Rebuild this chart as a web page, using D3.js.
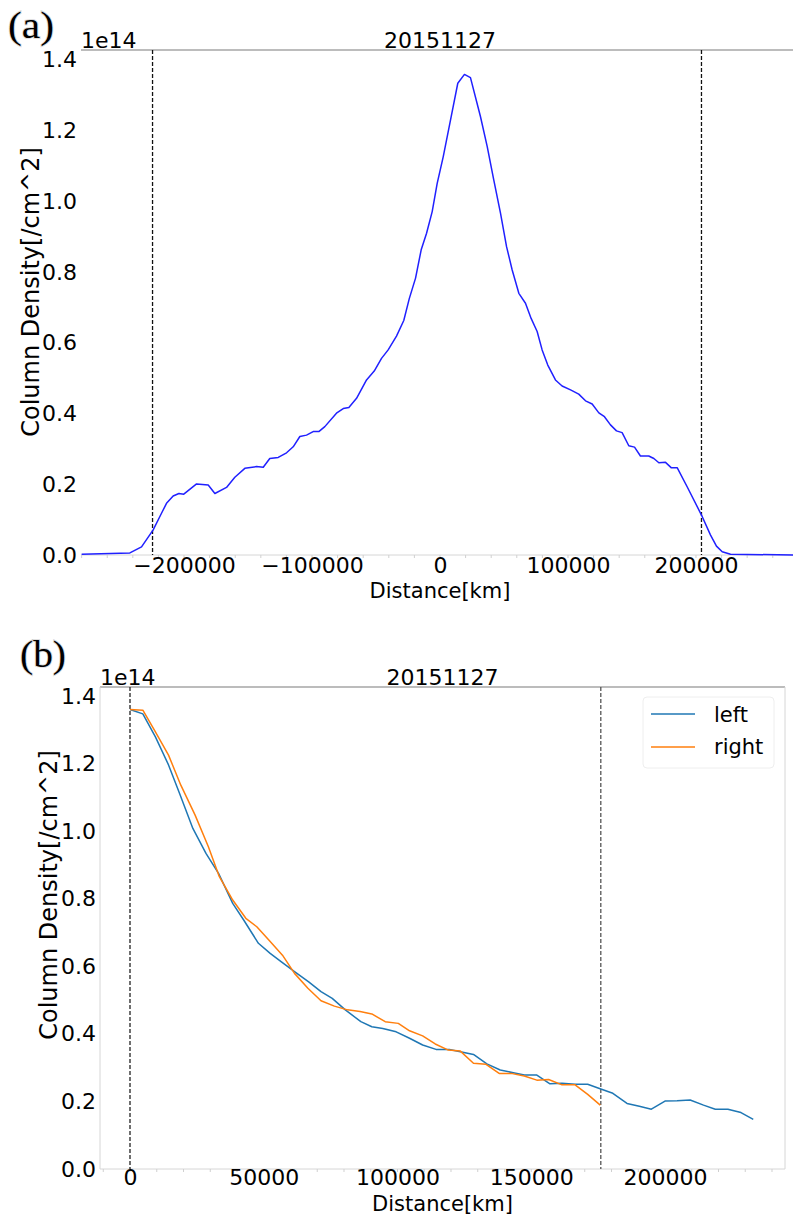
<!DOCTYPE html>
<html>
<head>
<meta charset="utf-8">
<script src="https://cdn.jsdelivr.net/npm/d3@7"></script>
<style>
  body { margin: 0; background: #fff; }
  svg text { font-family: "DejaVu Sans", sans-serif; fill: #000; }
</style>
</head>
<body>
<svg id="chart" width="793" height="1216"></svg>
<script>
// ---- data (column density in units of 1e14 /cm^2, distance in km) ----
const title = '20151127';

// panel (a): full profile across the tail
const aDistance = [-280000, -242300, -233200, -224100, -217600, -213700, -208500, -204000, -200200, -190200,
    -181100, -175900, -166800, -160300, -152500, -143400, -138100, -133000, -126400, -119900,
    -114700, -109500, -104300, -99100, -94700, -90000, -80900, -75600, -71200, -65200,
    -57400, -51400, -45700, -40500, -34000, -28300, -24000, -19100, -14700, -10500,
    -6100, -2200, 2500, 8200, 13900, 19100, 23800, 31600, 36900, 42000,
    47300, 52000, 56400, 61600, 66800, 71200, 75900, 79800, 84200, 90200,
    95400, 102000, 108400, 113700, 118900, 124100, 128500, 133200, 137900, 142300,
    147500, 152000, 156600, 163100, 167100, 171000, 176200, 180600, 185300, 193100,
    204300, 211300, 216000, 220500, 227000, 280000];
const aDensity = [0.002, 0.006, 0.023, 0.071, 0.118, 0.146, 0.167, 0.174, 0.172, 0.201,
    0.198, 0.174, 0.191, 0.220, 0.245, 0.250, 0.248, 0.273, 0.276, 0.289,
    0.306, 0.335, 0.339, 0.349, 0.349, 0.363, 0.401, 0.414, 0.417, 0.443,
    0.495, 0.520, 0.556, 0.580, 0.619, 0.663, 0.725, 0.783, 0.863, 0.910,
    0.971, 1.051, 1.126, 1.230, 1.334, 1.359, 1.350, 1.240, 1.155, 1.061,
    0.966, 0.872, 0.806, 0.740, 0.712, 0.669, 0.632, 0.580, 0.537, 0.495,
    0.478, 0.467, 0.455, 0.436, 0.427, 0.402, 0.391, 0.368, 0.351, 0.346,
    0.309, 0.305, 0.280, 0.280, 0.273, 0.261, 0.262, 0.247, 0.247, 0.193,
    0.113, 0.057, 0.025, 0.009, 0.002, 0.000];
const aCuts = [-224600, 204300];
const aXTicks = [-200000, -100000, 0, 100000, 200000];

// panel (b): folded profile, left and right side of the peak
const bLeftDistance = [0, 4800, 9500, 14400, 18500, 23500, 28400, 33100, 38400, 42500,
    48000, 52400, 56600, 61500, 66800, 71400, 75600, 80500, 86300, 90400,
    94500, 99500, 104500, 109400, 114400, 119400, 123500, 128400, 133400, 138400,
    143300, 147400, 152100, 157000, 161500, 166400, 171100, 176000, 180500, 185800,
    190400, 194900, 200000, 204500, 209400, 214400, 218800, 223500, 228400, 233000];
const bLeftDensity = [1.360, 1.347, 1.279, 1.196, 1.112, 1.008, 0.934, 0.875, 0.786, 0.737,
    0.668, 0.638, 0.613, 0.584, 0.554, 0.525, 0.505, 0.471, 0.436, 0.421,
    0.416, 0.406, 0.387, 0.367, 0.354, 0.354, 0.347, 0.339, 0.311, 0.293,
    0.285, 0.278, 0.278, 0.252, 0.254, 0.251, 0.251, 0.237, 0.224, 0.194,
    0.186, 0.177, 0.201, 0.202, 0.204, 0.189, 0.177, 0.177, 0.167, 0.147];
const bRightDistance = [0, 4800, 9500, 14400, 19000, 24300, 29300, 33400, 38400, 43300,
    47400, 52400, 57000, 61500, 66500, 71400, 76400, 81300, 86000, 90400,
    95400, 100300, 104500, 109400, 114100, 119000, 123500, 128400, 133100, 138000,
    142500, 147400, 152100, 156500, 161500, 166400, 171100, 175800];
const bRightDensity = [1.360, 1.358, 1.294, 1.225, 1.136, 1.048, 0.954, 0.865, 0.796, 0.742,
    0.717, 0.673, 0.633, 0.579, 0.535, 0.498, 0.482, 0.471, 0.466, 0.459,
    0.436, 0.431, 0.409, 0.394, 0.370, 0.352, 0.349, 0.313, 0.310, 0.283,
    0.283, 0.275, 0.263, 0.265, 0.249, 0.249, 0.221, 0.189];
const bCuts = [0, 176000];
const bXTicks = [0, 50000, 100000, 150000, 200000];

const yTicks = [0, 0.2, 0.4, 0.6, 0.8, 1.0, 1.2, 1.4];

const svg = d3.select('#chart');
const fontSize = 22;

// draws one matplotlib-like panel
function drawPanel(opt) {
    const x = d3.scaleLinear().domain(opt.xDomain).range([opt.left, opt.right]);
    const y = d3.scaleLinear().domain(opt.yDomain).range([opt.bottom, opt.top]);
    const g = svg.append('g');

    // spines
    g.append('line')
        .attr('x1', opt.left).attr('x2', opt.right)
        .attr('y1', opt.top).attr('y2', opt.top)
        .attr('stroke', '#7a7a7a').attr('stroke-width', 1.2);
    g.append('line')
        .attr('x1', opt.left).attr('x2', opt.right)
        .attr('y1', opt.bottom).attr('y2', opt.bottom)
        .attr('stroke', '#d6d6d6').attr('stroke-width', 1);
    if (opt.sideSpines) {
        [opt.left, opt.right].forEach(sx => {
            g.append('line')
                .attr('x1', sx).attr('x2', sx)
                .attr('y1', opt.top).attr('y2', opt.bottom)
                .attr('stroke', '#d6d6d6').attr('stroke-width', 1);
        });
    }

    // minor ticks on x
    const minor = d3.range(Math.ceil(opt.xDomain[0] / opt.minorStep) * opt.minorStep, opt.xDomain[1], opt.minorStep);
    g.selectAll('.minor')
        .data(minor)
        .enter()
        .append('line')
        .attr('x1', d => x(d)).attr('x2', d => x(d))
        .attr('y1', opt.bottom).attr('y2', opt.bottom + 3)
        .attr('stroke', '#d0d0d0');

    // x axis
    const xAxis = g.append('g')
        .attr('transform', 'translate(0,' + opt.bottom + ')')
        .call(d3.axisBottom(x).tickValues(opt.xTicks).tickSize(0).tickFormat(d3.format('d')));
    xAxis.select('.domain').remove();
    xAxis.selectAll('text')
        .attr('y', opt.tickY).attr('dy', null)
        .style('font-size', fontSize + 'px')
        .style('font-family', '"DejaVu Sans", sans-serif')
        .attr('fill', '#000');

    // y axis
    const yAxis = g.append('g')
        .attr('transform', 'translate(' + opt.left + ',0)')
        .call(d3.axisLeft(y).tickValues(yTicks).tickSize(0).tickPadding(4).tickFormat(d3.format('.1f')));
    yAxis.select('.domain').remove();
    yAxis.selectAll('text')
        .style('font-size', fontSize + 'px')
        .style('font-family', '"DejaVu Sans", sans-serif')
        .attr('fill', '#000');

    // dashed cut lines
    g.selectAll('.cut')
        .data(opt.cuts)
        .enter()
        .append('line')
        .attr('x1', d => x(d)).attr('x2', d => x(d))
        .attr('y1', opt.top).attr('y2', opt.bottom)
        .attr('stroke', (d, i) => opt.cutColors[i])
        .attr('stroke-width', 1.3)
        .attr('stroke-dasharray', '4,2');

    // curves
    const line = d3.line().x(d => x(d[0])).y(d => y(d[1]));
    opt.series.forEach(s => {
        g.append('path')
            .datum(d3.zip(s.xs, s.ys))
            .attr('fill', 'none')
            .attr('stroke', s.color)
            .attr('stroke-width', 1.5)
            .attr('stroke-linejoin', 'round')
            .attr('d', line);
    });

    // texts
    g.append('text')
        .attr('x', opt.left).attr('y', opt.top - 2)
        .style('font-size', fontSize + 'px')
        .text('1e14');
    g.append('text')
        .attr('x', (opt.left + opt.right) / 2).attr('y', opt.top - 2)
        .attr('text-anchor', 'middle')
        .style('font-size', fontSize + 'px')
        .text(title);
    g.append('text')
        .attr('x', (opt.left + opt.right) / 2).attr('y', opt.bottom + opt.xLabelDy)
        .attr('text-anchor', 'middle')
        .style('font-size', '21px')
        .text('Distance[km]');
    g.append('text')
        .attr('transform', 'translate(' + opt.yLabelX + ',' + opt.yLabelY + ')rotate(-90)')
        .attr('text-anchor', 'middle')
        .style('font-size', '24px')
        .text('Column Density[/cm^2]');
    g.append('text')
        .attr('x', opt.tagX).attr('y', opt.tagY)
        .attr('textLength', 46)
        .attr('lengthAdjust', 'spacingAndGlyphs')
        .style('font-family', '"Liberation Serif", serif')
        .style('font-size', '38px')
        .style('paint-order', 'stroke')
        .style('stroke', 'rgba(0,0,0,0.15)')
        .style('stroke-width', '2px')
        .text(opt.tag);

    return {x, y, g};
}

// panel (a)
drawPanel({
    left: 81, right: 799, top: 50, bottom: 555,
    xDomain: [-280500, 280500], yDomain: [0, 1.428],
    xTicks: aXTicks, minorStep: 20000, tickY: 18, xLabelDy: 43,
    cuts: aCuts, cutColors: ['#111', '#111'],
    sideSpines: false,
    series: [{xs: aDistance, ys: aDensity, color: '#2020ff'}],
    yLabelX: 39, yLabelY: 292, tag: '(a)', tagX: 8, tagY: 38
});

// panel (b)
const pb = drawPanel({
    left: 100, right: 785, top: 687, bottom: 1169,
    xDomain: [-11215, 244860], yDomain: [0, 1.4266],
    xTicks: bXTicks, minorStep: 10000, tickY: 16, xLabelDy: 41.5,
    cuts: bCuts, cutColors: ['#222', '#555'],
    sideSpines: true,
    series: [
        {xs: bLeftDistance, ys: bLeftDensity, color: '#1f77b4'},
        {xs: bRightDistance, ys: bRightDensity, color: '#ff7f0e'}
    ],
    yLabelX: 57, yLabelY: 895, tag: '(b)', tagX: 20, tagY: 667
});

// legend
const legendItems = [{name: 'left', color: '#1f77b4'}, {name: 'right', color: '#ff7f0e'}];
const legend = pb.g.append('g');
legend.append('rect')
    .attr('x', 643).attr('y', 697)
    .attr('width', 131).attr('height', 71)
    .attr('rx', 4)
    .attr('fill', '#fff')
    .attr('stroke', '#eeeeee');
legendItems.forEach((d, i) => {
    legend.append('line')
        .attr('x1', 651).attr('x2', 695)
        .attr('y1', 714 + i * 33).attr('y2', 714 + i * 33)
        .attr('stroke', d.color).attr('stroke-width', 1.5);
    legend.append('text')
        .attr('x', 714).attr('y', 722 + i * 32)
        .style('font-size', '21px')
        .text(d.name);
});
</script>
</body>
</html>
